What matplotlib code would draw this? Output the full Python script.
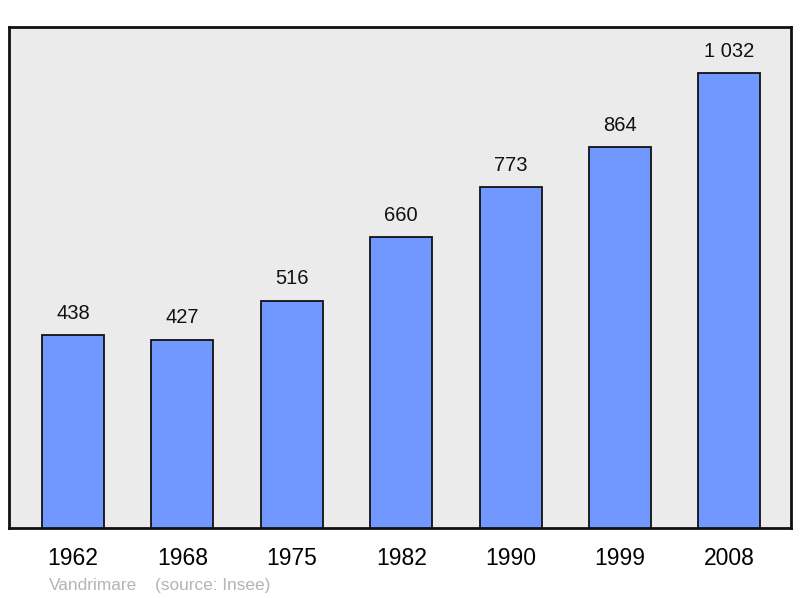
import matplotlib
matplotlib.use("Agg")
import matplotlib.pyplot as plt

years = ["1962", "1968", "1975", "1982", "1990", "1999", "2008"]
population = [438, 427, 516, 660, 773, 864, 1032]
value_labels = ["438", "427", "516", "660", "773", "864", "1 032"]
town = "Vandrimare"
source = "(source: Insee)"

plt.rcParams['font.family'] = ['Liberation Sans', 'DejaVu Sans']

fig = plt.figure(figsize=(8.0, 5.98), dpi=100)
W, H = 800, 598
ax = fig.add_axes([9 / W, 1 - 528 / H, (791 - 9) / W, (528 - 27) / H])
ax.set_facecolor('#ebebeb')
x = list(range(len(years)))
bars = ax.bar(x, population, width=0.567, color='#7098ff', edgecolor='#111111', linewidth=1.3, zorder=3)
ax.set_xlim(-0.585, 6.563)
ax.set_ylim(0, 1137)
for spine in ax.spines.values():
    spine.set_linewidth(2.0)
    spine.set_color('#111111')
ax.set_xticks(x)
ax.set_xticklabels(years, fontsize=16.5)
ax.tick_params(axis='x', length=0, pad=13.5)
ax.set_yticks([])
for xi, v, lab in zip(x, population, value_labels):
    ax.annotate(lab, (xi, v), xytext=(0, 9), textcoords='offset points',
                ha='center', va='bottom', fontsize=14.5, color='#111111')
fig.text(49 / W, 1 - 590 / H, town, fontsize=12.4, color='#b4b4b4', ha='left', va='baseline')
fig.text(155 / W, 1 - 590 / H, source, fontsize=12.4, color='#b4b4b4', ha='left', va='baseline')
fig.savefig('out.png', dpi=100)
